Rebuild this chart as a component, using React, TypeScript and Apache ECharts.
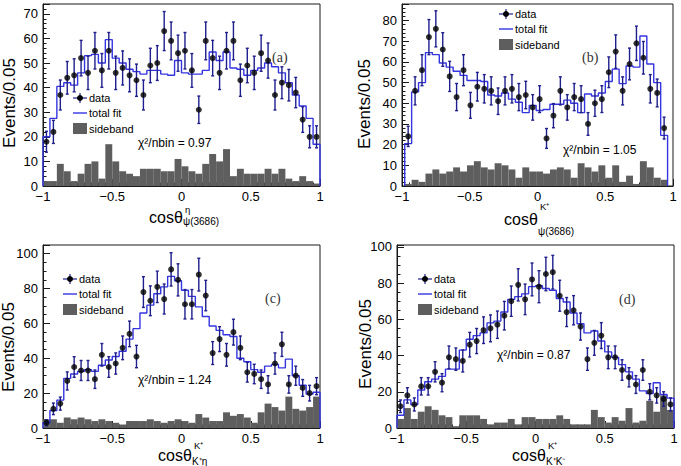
import React, { useEffect, useRef } from 'react';
import * as echarts from 'echarts';

const SANS = '"Liberation Sans", Arial, Helvetica, sans-serif';
const SERIF = '"Liberation Serif", "Times New Roman", serif';

const FIT_COLOR = '#3434e0';
const ERR_COLOR = '#1e1e8c';
const SIDE_COLOR = '#5e5e5e';

// (a) cos theta of eta in the psi(3686) frame, 40 bins over [-1, 1]
const aData = [18, 22, 37, 44, 45, 52, 46, 55, 47, 55, 46, 48, 45, 43, 37, 49, 50, 63, 59, 54, 55, 47, 31, 59, 52, 46, 55, 59, 43, 49, 46, 54, 51, 37, 42, 41, 38, 27, 20, 20];
const aFit = [20, 27.5, 40.5, 42, 41, 46, 53, 53.5, 50, 59.5, 52, 50, 47.5, 46.5, 45.5, 47, 47, 45.5, 45, 51, 46, 45.5, 45.5, 47, 54.5, 51, 54.5, 48, 47.5, 45, 47, 48, 50, 48.5, 46, 42, 37, 32.5, 27.5, 17];
const aSide = [2, 2, 9, 6, 2, 5, 9, 10, 3, 17, 10, 6, 5, 4, 7, 7, 7, 6, 6, 11, 8, 6, 5, 9, 13, 10, 15, 4, 7, 5, 5, 5, 7, 5, 7, 3, 2, 4, 2, 1];

// (b) cos theta of K+ in the psi(3686) frame, 38 bins
const bData = [24, 46, 56, 72, 76, 66, 53, 43, 56, 39, 48, 47, 46, 41, 46, 47, 43, 44, 38, 42, 23, 34, 46, 38, 43, 42, 30, 40, 42, 55, 65, 46, 59, 69, 62, 47, 45, 28];
const bFit = [20.5, 45.5, 50, 64.5, 63.5, 59.5, 57.5, 55.5, 53.5, 51, 51, 50.5, 44, 43.5, 45, 42, 40.5, 35.5, 39, 36.5, 37, 39.5, 39.5, 41.5, 40, 35.5, 44.5, 43.5, 45, 50.5, 56.5, 49.5, 58, 57.5, 72.5, 59, 50, 24.5];
const bSide = [1, 3, 2, 6, 8, 6, 7, 9, 7, 10, 12, 9, 8, 11, 10, 8, 4, 9, 7, 7, 6, 8, 9, 8, 4, 11, 9, 7, 10, 4, 10, 2, 5, 1, 12, 9, 4, 3];

// (c) cos theta of K+ in the K+eta frame
const cData = [3, 11, 14, 27, 35, 33, 33, 28, 42, 35, 37, 46, 54, 41, 78, 73, 81, 74, 91, 85, 71, 71, 88, 76, 43, 51, 42, 55, 46, 32, 31, 28, 25, 37, 48, 25, 30, 23, 20, 24];
const cFit = [3, 10, 16, 28.5, 31, 32.5, 33.5, 32.5, 36, 39, 41, 44, 51, 57, 66, 70.5, 77, 81, 87, 84.5, 79, 75.5, 69.5, 64, 58.5, 56, 53.5, 52.5, 40, 38, 33.5, 32, 35.5, 36.5, 34.5, 39.5, 30, 24.5, 19.5, 20.5];
const cSide = [5, 5, 3, 6, 5, 6, 5, 4, 5, 4, 3, 2, 4, 4, 4, 5, 4, 3, 4, 5, 4, 3, 8, 6, 4, 4, 9, 7, 8, 6, 3, 9, 14, 12, 10, 18, 11, 10, 12, 18];

// (d) cos theta of K+ in the K+K- frame
const dData = [12, 18, 13, 23, 23, 31, 25, 39, 38, 37, 46, 48, 54, 55, 57, 62, 70, 79, 71, 82, 78, 85, 86, 73, 64, 65, 56, 38, 47, 51, 39, 39, 32, 28, 24, 32, 20, 18, 16, 13];
const dFit = [7, 15.5, 13, 21, 25.5, 27, 28.5, 32.5, 32.5, 43, 49, 51, 52.5, 58, 59, 64, 71, 72.5, 74, 78, 78.5, 77, 76, 71.5, 69.5, 63.5, 57.5, 52.5, 53.5, 48, 42, 39, 35, 31, 27, 20.5, 19, 25, 18.5, 16.5];
const dSide = [5, 11, 5, 9, 12, 10, 7, 6, 1, 7, 7, 7, 5, 2, 3, 3, 5, 2, 6, 6, 5, 5, 5, 7, 5, 2, 2, 2, 10, 6, 3, 6, 4, 11, 3, 4, 15, 9, 18, 10];

// histogram ranges
const fullRange: [number, number] = [-1, 1];
const bRange: [number, number] = [-0.98, 0.96];

const chiLabels = ['0.97', '1.05', '1.24', '0.87'];
const panelTags = ['(a)', '(b)', '(c)', '(d)'];
const xTitleSup = ['η', 'K⁺', 'K⁺', 'K⁺'];
const xTitleSub = ['ψ(3686)', 'ψ(3686)', 'K⁺η', 'K⁺K⁻'];
const yTitle = 'Events/0.05';
const legendLabels = ['data', 'total fit', 'sideband'];

const hists = [
  { data: aData, fit: aFit, side: aSide, range: fullRange },
  { data: bData, fit: bFit, side: bSide, range: bRange },
  { data: cData, fit: cFit, side: cSide, range: fullRange },
  { data: dData, fit: dFit, side: dSide, range: fullRange },
];

// frame geometry and decorations of each pad
const pads = [
  {
    grid: { left: 43, top: 4, width: 277, height: 182 },
    yMax: 74, yStep: 10, yMinor: 5,
    legend: { x: 73, y: 98 }, chi: { x: 138, y: 143 }, tag: { x: 272, y: 57 },
    xTitle: { x: 149, y: 217, supY: 209, subY: 221 }, yTitlePos: { x: 9, y: 103 },
  },
  {
    grid: { left: 402, top: 4, width: 271, height: 182 },
    yMax: 88, yStep: 10, yMinor: 5,
    legend: { x: 499, y: 14 }, chi: { x: 563, y: 150 }, tag: { x: 582, y: 57 },
    xTitle: { x: 504, y: 219, supY: 206, subY: 231 }, yTitlePos: { x: 364, y: 104 },
  },
  {
    grid: { left: 43, top: 245, width: 277, height: 183 },
    yMax: 105, yStep: 20, yMinor: 4,
    legend: { x: 63, y: 279 }, chi: { x: 138, y: 380 }, tag: { x: 265, y: 298 },
    xTitle: { x: 158, y: 455, supY: 445, subY: 461 }, yTitlePos: { x: 8, y: 347 },
  },
  {
    grid: { left: 397, top: 245, width: 277, height: 183 },
    yMax: 101, yStep: 20, yMinor: 4,
    legend: { x: 418, y: 279 }, chi: { x: 497, y: 355 }, tag: { x: 619, y: 299 },
    xTitle: { x: 512, y: 455, supY: 445, subY: 461 }, yTitlePos: { x: 365, y: 344 },
  },
];

function binEdges(range: [number, number], n: number): number[] {
  const w = (range[1] - range[0]) / n;
  return Array.from({ length: n + 1 }, (_, k) => range[0] + k * w);
}

function fmtX(v: number): string {
  if (v === 0) return '0';
  return String(v).replace('-', '\u2212');
}

function buildOption() {
  const grids: any[] = [];
  const xAxes: any[] = [];
  const yAxes: any[] = [];
  const series: any[] = [];
  const graphics: any[] = [];

  pads.forEach((pad, i) => {
    const h = hists[i];
    const n = h.data.length;
    const e = binEdges(h.range, n);

    grids.push({ ...pad.grid, show: true, borderColor: '#1a1a1a', borderWidth: 1, backgroundColor: 'transparent' });

    xAxes.push({
      type: 'value', gridIndex: i, min: -1, max: 1, interval: 0.5,
      axisLine: { show: true, onZero: false, lineStyle: { color: '#1a1a1a', width: 1 } },
      axisTick: { show: true, inside: true, length: 7, lineStyle: { color: '#1a1a1a', width: 1 } },
      minorTick: { show: true, splitNumber: 10, length: 3.5, lineStyle: { color: '#1a1a1a', width: 1 } },
      splitLine: { show: false },
      axisLabel: { color: '#000', fontFamily: SANS, fontSize: 13, margin: 4, formatter: fmtX },
    });
    yAxes.push({
      type: 'value', gridIndex: i, min: 0, max: pad.yMax, interval: pad.yStep,
      axisLine: { show: true, onZero: false, lineStyle: { color: '#1a1a1a', width: 1 } },
      axisTick: { show: true, inside: true, length: 7, lineStyle: { color: '#1a1a1a', width: 1 } },
      minorTick: { show: true, splitNumber: pad.yMinor, length: 3.5, lineStyle: { color: '#1a1a1a', width: 1 } },
      splitLine: { show: false },
      axisLabel: { color: '#000', fontFamily: SANS, fontSize: 13, margin: 5, showMaxLabel: false },
    });

    // sideband histogram
    series.push({
      type: 'custom', xAxisIndex: i, yAxisIndex: i, z: 1, clip: true,
      data: h.side.map((v, k) => [e[k], e[k + 1], v]),
      encode: { x: [0, 1], y: 2 },
      renderItem: (_p: any, api: any) => {
        const p1 = api.coord([api.value(0), api.value(2)]);
        const p2 = api.coord([api.value(1), 0]);
        return {
          type: 'rect',
          shape: { x: p1[0], y: p1[1], width: p2[0] - p1[0], height: p2[1] - p1[1] },
          style: { fill: SIDE_COLOR },
        };
      },
    });

    // total fit as a step outline
    const fitPts: number[][] = [[e[0], 0]];
    h.fit.forEach((v, k) => fitPts.push([e[k], v]));
    fitPts.push([e[n], h.fit[n - 1]]);
    fitPts.push([e[n], 0]);
    series.push({
      type: 'line', xAxisIndex: i, yAxisIndex: i, z: 3, step: 'end',
      data: fitPts, showSymbol: false, symbol: 'none',
      lineStyle: { color: FIT_COLOR, width: 1.4 },
    });

    // Poisson error bars
    series.push({
      type: 'custom', xAxisIndex: i, yAxisIndex: i, z: 4,
      data: h.data.map((v, k) => [(e[k] + e[k + 1]) / 2, v - Math.sqrt(v), v + Math.sqrt(v)]),
      encode: { x: 0, y: [1, 2] },
      renderItem: (_p: any, api: any) => {
        const lo = api.coord([api.value(0), api.value(1)]);
        const hi = api.coord([api.value(0), api.value(2)]);
        const st = { stroke: ERR_COLOR, lineWidth: 1.4 };
        return {
          type: 'group',
          children: [
            { type: 'line', shape: { x1: lo[0], y1: lo[1], x2: hi[0], y2: hi[1] }, style: st },
            { type: 'line', shape: { x1: lo[0] - 1.5, y1: lo[1], x2: lo[0] + 1.5, y2: lo[1] }, style: st },
            { type: 'line', shape: { x1: hi[0] - 1.5, y1: hi[1], x2: hi[0] + 1.5, y2: hi[1] }, style: st },
          ],
        };
      },
    });

    // data points
    series.push({
      type: 'scatter', xAxisIndex: i, yAxisIndex: i, z: 5,
      data: h.data.map((v, k) => [(e[k] + e[k + 1]) / 2, v]),
      symbol: 'circle', symbolSize: 6,
      itemStyle: { color: '#000' },
    });

    // legend
    const L = pad.legend;
    const ix = L.x, iw = 14, tx = L.x + 16;
    graphics.push(
      { type: 'line', shape: { x1: ix, y1: L.y, x2: ix + iw, y2: L.y }, style: { stroke: ERR_COLOR, lineWidth: 1.2 } },
      { type: 'line', shape: { x1: ix + iw / 2, y1: L.y - 5, x2: ix + iw / 2, y2: L.y + 5 }, style: { stroke: ERR_COLOR, lineWidth: 1.2 } },
      { type: 'circle', shape: { cx: ix + iw / 2, cy: L.y, r: 3 }, style: { fill: '#000' } },
      { type: 'text', x: tx, y: L.y, style: { text: legendLabels[0], font: `11px ${SANS}`, fill: '#000', textAlign: 'left', textVerticalAlign: 'middle' } },
      { type: 'line', shape: { x1: ix, y1: L.y + 15, x2: ix + iw, y2: L.y + 15 }, style: { stroke: FIT_COLOR, lineWidth: 1.4 } },
      { type: 'text', x: tx, y: L.y + 15, style: { text: legendLabels[1], font: `11px ${SANS}`, fill: '#000', textAlign: 'left', textVerticalAlign: 'middle' } },
      { type: 'rect', shape: { x: ix, y: L.y + 25, width: iw, height: 11 }, style: { fill: SIDE_COLOR } },
      { type: 'text', x: tx, y: L.y + 31, style: { text: legendLabels[2], font: `11px ${SANS}`, fill: '#000', textAlign: 'left', textVerticalAlign: 'middle' } },
    );

    // fit quality and pad tag
    graphics.push(
      { type: 'text', x: pad.chi.x, y: pad.chi.y, style: { text: `χ²/nbin = ${chiLabels[i]}`, font: `12px ${SANS}`, fill: '#000', textAlign: 'left', textVerticalAlign: 'middle' } },
      { type: 'text', x: pad.tag.x, y: pad.tag.y, style: { text: panelTags[i], font: `14px ${SERIF}`, fill: '#333', textAlign: 'left', textVerticalAlign: 'middle' } },
    );

    // axis titles
    const T = pad.xTitle;
    graphics.push(
      { type: 'text', x: T.x, y: T.y, style: { text: 'cosθ', font: `16px ${SANS}`, fill: '#000', textAlign: 'left', textVerticalAlign: 'middle' } },
      { type: 'text', x: T.x + 36, y: T.supY, style: { text: xTitleSup[i], font: `9.5px ${SANS}`, fill: '#000', textAlign: 'left', textVerticalAlign: 'middle' } },
      { type: 'text', x: T.x + 34, y: T.subY, style: { text: xTitleSub[i], font: `10px ${SANS}`, fill: '#000', textAlign: 'left', textVerticalAlign: 'middle' } },
      { type: 'text', x: pad.yTitlePos.x, y: pad.yTitlePos.y, rotation: Math.PI / 2, style: { text: yTitle, font: `17px ${SANS}`, fill: '#000', textAlign: 'center', textVerticalAlign: 'middle' } },
    );
  });

  return {
    animation: false,
    backgroundColor: '#fff',
    grid: grids,
    xAxis: xAxes,
    yAxis: yAxes,
    series,
    graphic: { elements: graphics },
  };
}

export default function App() {
  const ref = useRef<HTMLDivElement>(null);
  useEffect(() => {
    if (!ref.current) return;
    const chart = echarts.init(ref.current, undefined, { renderer: 'svg' });
    chart.setOption(buildOption() as any);
    return () => chart.dispose();
  }, []);
  return <div ref={ref} style={{ position: 'fixed', left: 0, top: 0, width: 681, height: 466, background: '#fff' }} />;
}
